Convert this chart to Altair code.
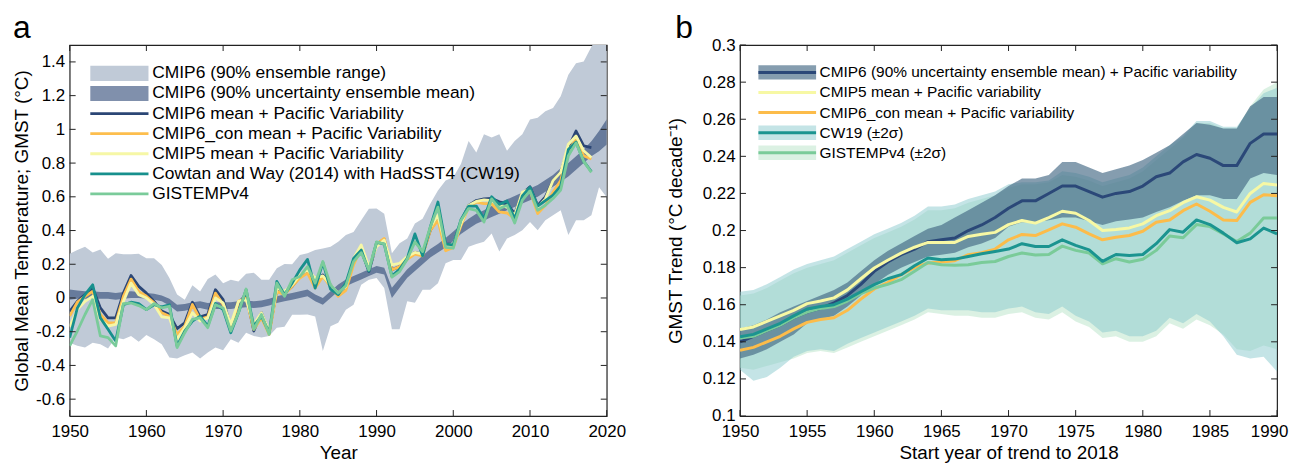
import altair as alt
import pandas as pd

FONT = "Liberation Sans"
CLEAR = "rgba(0,0,0,0)"
W, H = 540, 373
TICK = 6

# ---------------- panel a: annual GMST, 1950-2018 ----------------
years_a = list(range(1950, 2019))
band_years_a = list(range(1950, 2021))

cmip6_pv = [
    -0.08, -0.02, 0.02, 0.059, -0.059, -0.118, -0.118, 0.029, 0.133, 0.069,
    0.029, -0.02, -0.078, -0.098, -0.182, -0.147, -0.025, -0.112, -0.098, 0.049,
    -0.01, -0.176, -0.029, 0.02, -0.196, -0.088, -0.206, 0.049, 0.029, 0.069,
    0.127, 0.157, 0.108, 0.137, 0.078, 0.02, 0.059, 0.216, 0.284, 0.157,
    0.32, 0.347, 0.167, 0.186, 0.235, 0.27, 0.26, 0.40, 0.48, 0.32,
    0.32, 0.45, 0.549, 0.578, 0.588, 0.59, 0.57, 0.56, 0.50, 0.618,
    0.66, 0.549, 0.60, 0.696, 0.745, 0.892, 0.99, 0.902, 0.892,
]
cmip6con_pv = [
    -0.108, -0.025, 0.01, 0.039, -0.098, -0.147, -0.147, 0.01, 0.112, 0.039,
    0.01, -0.029, -0.088, -0.108, -0.216, -0.167, -0.039, -0.127, -0.112, 0.029,
    -0.039, -0.186, -0.02, 0.0, -0.186, -0.118, -0.216, 0.039, 0.02, 0.069,
    0.118, 0.147, 0.059, 0.127, 0.069, 0.01, 0.045, 0.196, 0.299, 0.167,
    0.32, 0.353, 0.167, 0.186, 0.229, 0.26, 0.25, 0.40, 0.46, 0.28,
    0.30, 0.43, 0.539, 0.569, 0.559, 0.559, 0.51, 0.504, 0.471, 0.598,
    0.637, 0.50, 0.549, 0.627, 0.696, 0.873, 0.941, 0.843, 0.824,
]
cmip5_pv = [
    -0.17, -0.069, -0.02, 0.01, -0.127, -0.167, -0.157, -0.02, 0.088, 0.02,
    0.0, -0.039, -0.112, -0.118, -0.245, -0.176, -0.088, -0.137, -0.118, 0.0,
    -0.029, -0.157, -0.02, -0.01, -0.157, -0.088, -0.196, 0.059, 0.039, 0.078,
    0.137, 0.167, 0.118, 0.131, 0.078, 0.029, 0.069, 0.235, 0.314, 0.186,
    0.304, 0.343, 0.196, 0.206, 0.245, 0.27, 0.26, 0.42, 0.49, 0.31,
    0.32, 0.44, 0.549, 0.573, 0.582, 0.578, 0.549, 0.539, 0.49, 0.627,
    0.647, 0.539, 0.588, 0.696, 0.745, 0.912, 0.961, 0.873, 0.833,
]
cw19 = [
    -0.235, -0.06, 0.02, 0.078, -0.118, -0.186, -0.255, -0.04, -0.025, -0.033,
    -0.069, -0.04, -0.053, -0.04, -0.284, -0.196, -0.137, -0.108, -0.167, -0.033,
    -0.069, -0.206, -0.088, 0.049, -0.167, -0.108, -0.206, 0.098, 0.02, 0.088,
    0.167, 0.229, 0.059, 0.21, 0.053, 0.02, 0.088, 0.235, 0.284, 0.16,
    0.33, 0.32, 0.13, 0.17, 0.235, 0.38, 0.25, 0.42, 0.569, 0.32,
    0.315, 0.465, 0.545, 0.545, 0.47, 0.60, 0.555, 0.575, 0.47, 0.605,
    0.657, 0.545, 0.578, 0.61, 0.665, 0.88, 0.925, 0.81, 0.75,
]
gistemp = [
    -0.284, -0.196, -0.098, -0.01, -0.225, -0.235, -0.284, -0.033, -0.03, -0.045,
    -0.069, -0.033, -0.059, -0.049, -0.294, -0.206, -0.127, -0.118, -0.176, -0.04,
    -0.059, -0.196, -0.088, 0.053, -0.186, -0.098, -0.216, 0.088, 0.01, 0.108,
    0.127, 0.186, 0.088, 0.216, 0.078, 0.029, 0.073, 0.216, 0.269, 0.167,
    0.333, 0.32, 0.124, 0.157, 0.229, 0.333, 0.275, 0.42, 0.539, 0.30,
    0.295, 0.46, 0.53, 0.52, 0.45, 0.588, 0.53, 0.55, 0.445, 0.58,
    0.635, 0.52, 0.55, 0.59, 0.64, 0.843, 0.92, 0.81, 0.745,
]

# CMIP6 90% ensemble range, 1950-2020
range_lo = [
    -0.265, -0.284, -0.294, -0.265, -0.275, -0.30, -0.235, -0.245, -0.225, -0.26,
    -0.22, -0.245, -0.275, -0.353, -0.359, -0.339, -0.324, -0.359, -0.324, -0.294,
    -0.31, -0.245, -0.265, -0.206, -0.225, -0.235, -0.225, -0.176, -0.171, -0.10,
    -0.10, -0.098, -0.11, -0.314, -0.167, -0.147, -0.07, -0.04, 0.078, 0.108,
    0.118, 0.059, -0.186, -0.186, -0.02, -0.029, 0.049, 0.049, 0.088, 0.206,
    0.225, 0.225, 0.304, 0.32, 0.333, 0.382, 0.275, 0.353, 0.373, 0.402,
    0.451, 0.402, 0.461, 0.49, 0.52, 0.373, 0.461, 0.461, 0.49, 0.657, 0.598,
]
range_hi = [
    0.262, 0.284, 0.304, 0.27, 0.288, 0.232, 0.265, 0.259, 0.259, 0.262,
    0.235, 0.235, 0.196, 0.118, 0.02, -0.01, 0.075, 0.039, 0.113, 0.14,
    0.088, 0.108, 0.098, 0.143, 0.15, 0.108, 0.108, 0.176, 0.202, 0.20,
    0.255, 0.265, 0.284, 0.294, 0.304, 0.333, 0.373, 0.392, 0.461, 0.529,
    0.53, 0.50, 0.265, 0.324, 0.353, 0.441, 0.47, 0.559, 0.637, 0.696,
    0.716, 0.794, 0.931, 0.863, 0.971, 0.951, 0.971, 0.873, 0.931, 0.971,
    1.059, 1.069, 1.108, 1.127, 1.196, 1.324, 1.392, 1.402, 1.49, 1.56, 1.60,
]
# CMIP6 90% uncertainty of the ensemble mean, 1950-2020
mean_lo = [
    -0.01, -0.005, -0.005, -0.005, -0.005, -0.005, -0.01, -0.005, 0.0, 0.0,
    -0.005, -0.01, -0.02, -0.045, -0.08, -0.075, -0.065, -0.06, -0.07, -0.065,
    -0.065, -0.065, -0.06, -0.055, -0.06, -0.055, -0.045, -0.03, -0.02, -0.01,
    0.0, 0.01, -0.02, -0.04, 0.0, 0.04, 0.07, 0.09, 0.11, 0.13,
    0.15, 0.14, 0.0, 0.06, 0.12, 0.16, 0.2, 0.24, 0.27, 0.30,
    0.34, 0.38, 0.41, 0.44, 0.46, 0.48, 0.50, 0.52, 0.54, 0.56,
    0.58, 0.60, 0.63, 0.66, 0.69, 0.72, 0.76, 0.80, 0.84, 0.87, 0.91,
]
mean_hi = [
    0.05, 0.045, 0.04, 0.04, 0.035, 0.035, 0.03, 0.035, 0.04, 0.035,
    0.03, 0.025, 0.015, -0.005, -0.04, -0.035, -0.025, -0.02, -0.03, -0.025,
    -0.025, -0.025, -0.02, -0.015, -0.02, -0.015, -0.005, 0.01, 0.02, 0.03,
    0.04, 0.05, 0.02, 0.0, 0.04, 0.08, 0.11, 0.13, 0.15, 0.17,
    0.19, 0.18, 0.06, 0.115, 0.17, 0.21, 0.25, 0.29, 0.32, 0.355,
    0.395, 0.435, 0.47, 0.50, 0.52, 0.545, 0.565, 0.585, 0.605, 0.625,
    0.65, 0.67, 0.70, 0.73, 0.77, 0.80, 0.84, 0.88, 0.93, 0.99, 1.06,
]

legend_a = [
    "CMIP6 (90% ensemble range)",
    "CMIP6 (90% uncertainty ensemble mean)",
    "CMIP6 mean + Pacific Variability",
    "CMIP6_con mean + Pacific Variability",
    "CMIP5 mean + Pacific Variability",
    "Cowtan and Way (2014) with HadSST4 (CW19)",
    "GISTEMPv4",
]
band_fill_a = ["#c0cad7", "rgba(44,70,117,0.6)", CLEAR, CLEAR, CLEAR, CLEAR, CLEAR]
line_color_a = [CLEAR, CLEAR, "#2b4675", "#fdbe4d", "#f6f7a6", "#17908d", "#7acb9a"]

# ---------------- panel b: trend from start year to 2018 ----------------
years_b = list(range(1950, 1991))

trend_cmip6 = [
    0.140, 0.143, 0.146, 0.149, 0.153, 0.156, 0.158, 0.161, 0.165, 0.171,
    0.178, 0.183, 0.187, 0.190, 0.194, 0.195, 0.196, 0.200, 0.203, 0.207,
    0.212, 0.216, 0.216, 0.220, 0.224, 0.224, 0.221, 0.218, 0.220, 0.221,
    0.224, 0.229, 0.231, 0.237, 0.241, 0.239, 0.235, 0.235, 0.247, 0.252, 0.252,
]
trend_cmip6_lo = [
    0.131, 0.133, 0.136, 0.140, 0.144, 0.150, 0.152, 0.154, 0.159, 0.165,
    0.171, 0.176, 0.180, 0.183, 0.186, 0.187, 0.188, 0.191, 0.193, 0.196,
    0.202, 0.2045, 0.2045, 0.2055, 0.207, 0.207, 0.205, 0.203, 0.205, 0.206,
    0.207, 0.210, 0.2125, 0.216, 0.219, 0.219, 0.217, 0.217, 0.228, 0.231, 0.230,
]
trend_cmip6_hi = [
    0.147, 0.149, 0.152, 0.156, 0.159, 0.162, 0.165, 0.168, 0.172, 0.178,
    0.184, 0.189, 0.193, 0.197, 0.201, 0.203, 0.207, 0.211, 0.215, 0.219,
    0.224, 0.228, 0.228, 0.230, 0.237, 0.237, 0.234, 0.231, 0.233, 0.235,
    0.238, 0.242, 0.246, 0.252, 0.258, 0.257, 0.255, 0.255, 0.267, 0.272, 0.272,
]
trend_cmip5 = [
    0.1466, 0.148, 0.151, 0.154, 0.157, 0.1606, 0.162, 0.1637, 0.168, 0.174,
    0.1798, 0.184, 0.1878, 0.191, 0.1936, 0.1935, 0.1936, 0.1968, 0.198, 0.199,
    0.2032, 0.2054, 0.204, 0.207, 0.2104, 0.2093, 0.2054, 0.200, 0.2005, 0.2014,
    0.2036, 0.208, 0.2107, 0.215, 0.2182, 0.2164, 0.2125, 0.210, 0.220, 0.2254, 0.2245,
]
trend_cmip6con = [
    0.1355, 0.137, 0.140, 0.143, 0.147, 0.1505, 0.152, 0.153, 0.157, 0.163,
    0.1685, 0.172, 0.1762, 0.180, 0.1825, 0.183, 0.1837, 0.187, 0.188, 0.190,
    0.195, 0.1979, 0.1973, 0.2004, 0.2036, 0.2018, 0.1982, 0.195, 0.1964, 0.1973,
    0.1996, 0.2045, 0.2057, 0.2107, 0.2143, 0.2104, 0.2057, 0.2054, 0.2152, 0.2193, 0.2188,
]
trend_cw19 = [
    0.1427, 0.144, 0.147, 0.150, 0.154, 0.1577, 0.159, 0.160, 0.163, 0.167,
    0.1708, 0.174, 0.1762, 0.181, 0.1852, 0.1843, 0.1846, 0.186, 0.1875, 0.1887,
    0.190, 0.1929, 0.1914, 0.1914, 0.195, 0.192, 0.1896, 0.1834, 0.1871, 0.1866,
    0.1871, 0.1929, 0.2005, 0.1991, 0.2057, 0.2032, 0.1986, 0.1934, 0.1955, 0.2013, 0.1982,
]
trend_cw19_lo = [
    0.125, 0.119, 0.121, 0.126, 0.132, 0.135, 0.136, 0.135, 0.139, 0.142,
    0.145, 0.148, 0.151, 0.154, 0.158, 0.157, 0.157, 0.157, 0.156, 0.156,
    0.158, 0.159, 0.156, 0.155, 0.159, 0.154, 0.151, 0.145, 0.146, 0.143,
    0.143, 0.146, 0.153, 0.150, 0.155, 0.151, 0.143, 0.133, 0.131, 0.132, 0.124,
]
trend_cw19_hi = [
    0.167, 0.168, 0.171, 0.175, 0.179, 0.182, 0.184, 0.186, 0.190, 0.194,
    0.198, 0.201, 0.204, 0.208, 0.213, 0.213, 0.214, 0.217, 0.219, 0.221,
    0.225, 0.226, 0.226, 0.227, 0.232, 0.231, 0.229, 0.226, 0.228, 0.230,
    0.234, 0.240, 0.246, 0.251, 0.259, 0.259, 0.256, 0.256, 0.266, 0.274, 0.277,
]
trend_gistemp = [
    0.142, 0.143, 0.146, 0.149, 0.153, 0.156, 0.158, 0.159, 0.162, 0.166,
    0.169, 0.171, 0.1735, 0.178, 0.1828, 0.1816, 0.1813, 0.1816, 0.1828, 0.1833,
    0.186, 0.1879, 0.1868, 0.1871, 0.1916, 0.1893, 0.1879, 0.1821, 0.1848, 0.183,
    0.1845, 0.1893, 0.197, 0.1961, 0.2032, 0.2021, 0.1982, 0.1941, 0.1986, 0.2068, 0.2068,
]
trend_gistemp_lo = [
    0.126, 0.125, 0.127, 0.129, 0.131, 0.134, 0.135, 0.134, 0.137, 0.140,
    0.143, 0.146, 0.149, 0.152, 0.156, 0.155, 0.154, 0.154, 0.153, 0.153,
    0.155, 0.156, 0.153, 0.152, 0.156, 0.151, 0.148, 0.142, 0.143, 0.140,
    0.140, 0.143, 0.150, 0.147, 0.152, 0.149, 0.144, 0.136, 0.135, 0.138, 0.136,
]
trend_gistemp_hi = [
    0.165, 0.166, 0.169, 0.173, 0.177, 0.180, 0.182, 0.184, 0.188, 0.192,
    0.196, 0.199, 0.202, 0.206, 0.211, 0.211, 0.212, 0.215, 0.217, 0.219,
    0.223, 0.225, 0.225, 0.226, 0.230, 0.229, 0.227, 0.224, 0.226, 0.228,
    0.232, 0.238, 0.244, 0.250, 0.258, 0.258, 0.255, 0.255, 0.267, 0.276, 0.280,
]

legend_b = [
    "CMIP6 (90% uncertainty ensemble mean) + Pacific variability",
    "CMIP5 mean + Pacific variability",
    "CMIP6_con mean + Pacific variability",
    "CW19 (±2σ)",
    "GISTEMPv4 (±2σ)",
]
band_fill_b = ["rgba(68,104,132,0.65)", CLEAR, CLEAR, "rgba(137,201,205,0.5)", "rgba(183,227,199,0.5)"]
line_color_b = ["#2b4878", "#f7f8a4", "#fcbc4a", "#1b9490", "#7acb99"]


def long_lines(years, names, series):
    rows = []
    for name, vals in zip(names, series):
        rows += [{"year": y, "value": v, "series": name} for y, v in zip(years, vals)]
    return pd.DataFrame(rows)


def long_band(years, name, lo, hi):
    # trailing space keeps the band legend apart from the line legend
    return pd.DataFrame({"year": years, "lo": lo, "hi": hi, "band": name + " "})


def panel(letter, letter_dx, lines, bands, names, band_fill, line_color, xdom, ydom, xticks,
          yticks, xtitle, ytitle, ytitle_pad, leg_x, leg_y, leg_font, leg_pad, sym_w,
          band_path, line_w, last_label_shift=0):
    xs = alt.Scale(domain=xdom, nice=False, zero=False)
    ys = alt.Scale(domain=ydom, nice=False, zero=False)
    label_offset = {"condition": {"test": f"datum.value == {xdom[1]}", "value": last_label_shift},
                    "value": 0}
    xa = alt.Axis(values=xticks, format="d", ticks=False, domain=False, grid=False,
                  labelFlush=False, labelOverlap=False, labelPadding=8, titlePadding=4,
                  labelOffset=label_offset)
    ya = alt.Axis(values=yticks, labelExpr="'' + datum.value", ticks=False, domain=False,
                  grid=False, labelPadding=5, titlePadding=ytitle_pad)

    def xe(field):
        return alt.X(f"{field}:Q", scale=xs, axis=xa, title=xtitle)

    def ye(field):
        return alt.Y(f"{field}:Q", scale=ys, axis=ya, title=ytitle)

    common = dict(
        orient="none", legendX=leg_x, legendY=leg_y, direction="vertical", title=None,
        symbolSize=sym_w * sym_w, symbolStrokeWidth=line_w, symbolOpacity=1,
        labelFont=FONT, labelFontSize=leg_font, labelLimit=0, labelOffset=2,
        clipHeight=17, rowPadding=leg_pad, padding=0,
    )
    band_legend = alt.Legend(symbolType=band_path, symbolStrokeColor=CLEAR,
                             labelColor=CLEAR, **common)
    line_legend = alt.Legend(symbolType="stroke", labelColor="black", **common)
    fill = alt.Fill("band:N", scale=alt.Scale(domain=[n + " " for n in names], range=band_fill),
                    legend=band_legend)
    stroke = alt.Stroke("series:N", scale=alt.Scale(domain=names, range=line_color),
                        legend=line_legend)

    layers = []
    for b in bands:
        layers.append(
            alt.Chart(b).mark_area(clip=True, interpolate="linear")
            .encode(x=xe("year"), y=ye("lo"), y2="hi", fill=fill)
        )
    layers.append(
        alt.Chart(lines).mark_line(clip=True, strokeWidth=line_w, strokeJoin="round")
        .encode(x=xe("year"), y=ye("value"), stroke=stroke, detail="series:N")
    )

    xt = pd.DataFrame({"year": xticks})
    yt = pd.DataFrame({"value": yticks})
    rule = dict(color="#222222", strokeWidth=1)
    layers += [
        alt.Chart(xt).mark_rule(**rule).encode(x=xe("year"), y=alt.value(0), y2=alt.value(TICK)),
        alt.Chart(xt).mark_rule(**rule).encode(x=xe("year"), y=alt.value(H), y2=alt.value(H - TICK)),
        alt.Chart(yt).mark_rule(**rule).encode(y=ye("value"), x=alt.value(0), x2=alt.value(TICK)),
        alt.Chart(yt).mark_rule(**rule).encode(y=ye("value"), x=alt.value(W), x2=alt.value(W - TICK)),
    ]
    # panel letter, placed above the top-left corner
    layers.append(
        alt.Chart(pd.DataFrame({"t": [letter]}))
        .mark_text(align="left", baseline="alphabetic", font=FONT, fontSize=32, color="black")
        .encode(text="t:N", x=alt.value(letter_dx), y=alt.value(-7))
    )
    return alt.layer(*layers).properties(width=W, height=H)


lines_a = long_lines(years_a, legend_a[2:], [cmip6_pv, cmip6con_pv, cmip5_pv, cw19, gistemp])
bands_a = [
    long_band(band_years_a, legend_a[0], range_lo, range_hi),
    long_band(band_years_a, legend_a[1], mean_lo, mean_hi),
]
chart_a = panel(
    "a", -57, lines_a, bands_a, legend_a, band_fill_a, line_color_a,
    [1950, 2020], [-0.7, 1.5], list(range(1950, 2021, 10)),
    [-0.6, -0.4, -0.2, 0, 0.2, 0.4, 0.6, 0.8, 1, 1.2, 1.4],
    "Year", "Global Mean Temperature; GMST (°C)", 4,
    19, 20, 17.5, 2.2, 58.5, "M-1,-0.26H1V0.26H-1Z", 2.8,
)

lines_b = long_lines(years_b, [legend_b[0], legend_b[1], legend_b[2], legend_b[4], legend_b[3]],
                     [trend_cmip6, trend_cmip5, trend_cmip6con, trend_gistemp, trend_cw19])
bands_b = [
    long_band(years_b, legend_b[4], trend_gistemp_lo, trend_gistemp_hi),
    long_band(years_b, legend_b[3], trend_cw19_lo, trend_cw19_hi),
    long_band(years_b, legend_b[0], trend_cmip6_lo, trend_cmip6_hi),
]
chart_b = panel(
    "b", -65, lines_b, bands_b, legend_b, band_fill_b, line_color_b,
    [1950, 1990], [0.1, 0.3], list(range(1950, 1991, 5)),
    [0.1, 0.12, 0.14, 0.16, 0.18, 0.2, 0.22, 0.24, 0.26, 0.28, 0.3],
    "Start year of trend to 2018", "GMST Trend (°C decade⁻¹)", 17,
    17, 19, 15.5, 3.2, 58, "M-1,-0.25H1V0.25H-1Z", 3, last_label_shift=-8,
)

chart = (
    alt.hconcat(chart_a, chart_b, spacing=39)
    .resolve_scale(fill="independent", stroke="independent", x="independent", y="independent")
    .resolve_legend(fill="independent", stroke="independent")
    .properties(padding={"left": 4, "top": 2, "right": 0, "bottom": 0})
    .configure_view(stroke="#222222", strokeWidth=1.2)
    .configure_axis(labelFont=FONT, labelFontSize=17, labelColor="black",
                    titleFont=FONT, titleFontSize=19, titleFontWeight="normal", titleColor="black")
)

chart.save("out.html", embed_options={"renderer": "svg", "actions": False})
